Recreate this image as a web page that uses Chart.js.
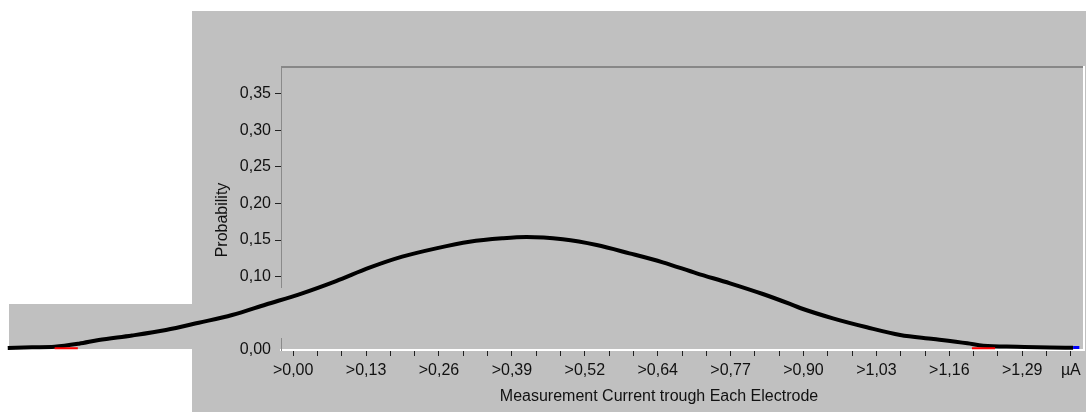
<!DOCTYPE html>
<html>
<head>
<meta charset="utf-8">
<script src="https://cdn.jsdelivr.net/npm/chart.js@4.4.1/dist/chart.umd.min.js"></script>
<style>
  html, body { margin: 0; padding: 0; background: #ffffff; overflow: hidden; }
  canvas { display: block; }
</style>
</head>
<body>
<canvas id="chart" width="1086" height="412"></canvas>
<script>
// Current step between neighbouring tick marks (µA)
const TICK_STEP = 0.043;

// One entry per tick mark on the current axis
const xTickLabels = [
  '>0,00', '', '', '>0,13', '', '', '>0,26', '', '', '>0,39', '', '',
  '>0,52', '', '', '>0,64', '', '', '>0,77', '', '', '>0,90', '', '',
  '>1,03', '', '', '>1,16', '', '', '>1,29', '', 'µA'
];

const yTickValues = [0, 0.05, 0.10, 0.15, 0.20, 0.25, 0.30, 0.35];

const xTitle = 'Measurement Current trough Each Electrode';
const yTitle = 'Probability';

// Probability distribution of the measured current
const currentUA = [
  -0.505, -0.462, -0.422, -0.379, -0.344, -0.285, -0.225, -0.167, -0.108, -0.048,
   0.016,  0.076,  0.135,  0.193,  0.253,  0.312,  0.370,  0.413,  0.477,  0.537,
   0.595,  0.654,  0.714,  0.773,  0.831,  0.879,  0.897,  0.955,  1.015,  1.074,
   1.133,  1.193,  1.221,  1.281,  1.339,  1.380
];
const probability = [
  0.0027, 0.0037, 0.0044, 0.0086, 0.0136, 0.0198, 0.0273, 0.0372, 0.0477, 0.0621,
  0.0774, 0.0941, 0.1123, 0.1273, 0.1387, 0.1477, 0.1524, 0.1542, 0.1510, 0.1432,
  0.1319, 0.1196, 0.1046, 0.0910, 0.0764, 0.0628, 0.0573, 0.0432, 0.0310, 0.0205,
  0.0150, 0.0091, 0.0059, 0.0045, 0.0034, 0.0031
];

// Limit markers along the base of the curve
const lowerLimitUA = [-0.422, -0.381];
const upperLimitUA = [1.201, 1.242];
const limitLevel = [0.0024, 0.0024];
const endMarkUA = [1.380, 1.391];
const endMarkLevel = [0.0034, 0.0034];

const toPoints = (xs, ys) => xs.map((x, i) => ({ x: x, y: ys[i] }));
const fmt = v => v.toFixed(2).replace('.', ',');

const FONT = { family: "'Liberation Sans', Arial, sans-serif", size: 16 };
const PANEL = '#c0c0c0';
const TEXT = '#111111';

// Window panels, plot frame and axis titles
const panelPlugin = {
  id: 'panel',
  beforeDraw(chart) {
    const c = chart.ctx;
    c.save();
    c.fillStyle = '#ffffff';
    c.fillRect(0, 0, chart.width, chart.height);
    c.fillStyle = PANEL;
    c.fillRect(192, 11, chart.width - 192, chart.height - 11);
    c.fillRect(9, 304, 183, 45);
    c.restore();
  },
  beforeDatasetsDraw(chart) {
    const c = chart.ctx;
    const a = chart.chartArea;
    c.save();
    // strip behind the curve where it leaves the plot
    c.fillStyle = PANEL;
    c.fillRect(232, 288, a.left - 232 + 1, 50);
    // top edge of the plot frame
    c.fillStyle = '#878787';
    c.fillRect(a.left, a.top, a.right - a.left, 2);
    // right edge of the plot frame
    c.fillStyle = '#ffffff';
    c.fillRect(a.right, a.top, 2, a.bottom - a.top + 1);
    c.restore();
  },
  afterDraw(chart) {
    const c = chart.ctx;
    c.save();
    c.fillStyle = TEXT;
    c.font = `${FONT.size}px ${FONT.family}`;
    c.textAlign = 'center';
    c.textBaseline = 'middle';
    c.fillText(xTitle, 659, 397);
    c.translate(223, 220);
    c.rotate(-Math.PI / 2);
    c.fillText(yTitle, 0, 0);
    c.restore();
  }
};

Chart.defaults.font.family = FONT.family;
Chart.defaults.font.size = FONT.size;
Chart.defaults.color = TEXT;

const segment = (color, width) => ({
  borderColor: color,
  borderWidth: width,
  pointRadius: 0,
  clip: false,
  borderCapStyle: 'butt'
});

new Chart(document.getElementById('chart'), {
  type: 'line',
  data: {
    datasets: [
      Object.assign({ data: toPoints(lowerLimitUA, limitLevel) }, segment('#ff0000', 2)),
      Object.assign({ data: toPoints(upperLimitUA, limitLevel) }, segment('#ff0000', 2)),
      Object.assign({ data: toPoints(endMarkUA, endMarkLevel) }, segment('#0000ff', 3)),
      Object.assign({
        data: toPoints(currentUA, probability),
        cubicInterpolationMode: 'monotone',
        borderJoinStyle: 'round'
      }, segment('#000000', 4))
    ]
  },
  options: {
    responsive: false,
    animation: false,
    events: [],
    plugins: { legend: { display: false }, tooltip: { enabled: false } },
    layout: { padding: { left: 0, top: 66, right: 3, bottom: 0 } },
    scales: {
      x: {
        type: 'linear',
        bounds: 'data',
        // axis spans half a step beyond the first and last tick; the curve
        // itself is allowed to run past it on both sides
        afterDataLimits(scale) {
          scale.min = -0.5 * TICK_STEP;
          scale.max = (xTickLabels.length - 0.5) * TICK_STEP;
        },
        afterBuildTicks(scale) {
          scale.ticks = xTickLabels.map((_, i) => ({ value: i * TICK_STEP }));
        },
        afterFit(scale) { scale.height = 62; },
        border: { color: '#ffffff', width: 2 },
        grid: { drawOnChartArea: false, drawTicks: true, tickLength: 6, tickColor: '#222222' },
        ticks: {
          autoSkip: false,
          maxRotation: 0,
          minRotation: 0,
          padding: 5,
          color: TEXT,
          callback: (v, i) => xTickLabels[i]
        }
      },
      y: {
        min: 0,
        max: 0.3875,
        afterBuildTicks(scale) {
          scale.ticks = yTickValues.map(v => ({ value: v }));
        },
        afterFit(scale) { scale.width = 281; },
        border: { color: '#8a8a8a', width: 1 },
        grid: {
          drawOnChartArea: false,
          drawTicks: true,
          tickLength: 6,
          tickColor: ctx => (ctx.tick && ctx.tick.value === 0) ? 'rgba(0,0,0,0)' : '#222222'
        },
        ticks: {
          padding: 4,
          color: TEXT,
          callback: v => fmt(v)
        }
      }
    }
  },
  plugins: [panelPlugin]
});
</script>
</body>
</html>
